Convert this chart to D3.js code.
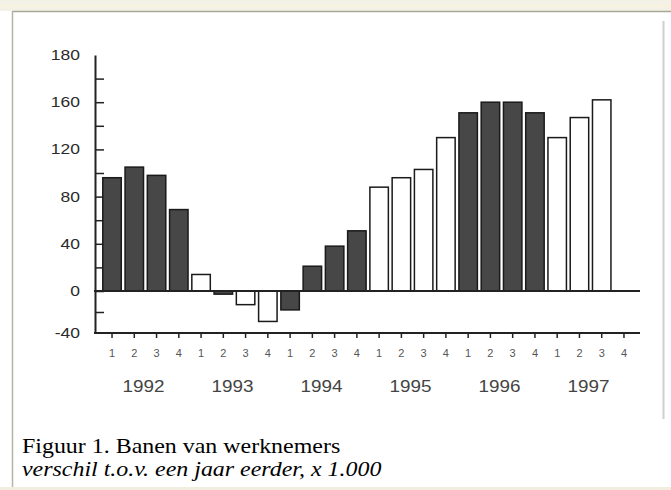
<!DOCTYPE html>
<html>
<head>
<meta charset="utf-8">
<script src="https://cdn.jsdelivr.net/npm/d3@7"></script>
<style>
  body { margin: 0; background: #fff; }
  svg { display: block; }
</style>
</head>
<body>
<svg id="chart" width="671" height="490"></svg>
<script>
// banen van werknemers, verschil t.o.v. een jaar eerder (x 1.000)
const years = [1992, 1993, 1994, 1995, 1996, 1997];
const quarters = ["1", "2", "3", "4"];
const values = [96, 105, 98, 69, 14, -3, -13, -29, -18, 21, 38, 51,
                88, 96, 103, 130, 151, 160, 160, 151, 130, 147, 162, null];
// 1 = donkere balk, 0 = witte balk
const dark = [1, 1, 1, 1, 0, 1, 0, 0, 1, 1, 1, 1,
              0, 0, 0, 0, 1, 1, 1, 1, 0, 0, 0, 0];
const yTickValues = [200, 160, 120, 80, 40, 0, -40];
const yTickLabels = ["180", "160", "120", "80", "40", "0", "-40"];
const captionTitle = "Figuur 1. Banen van werknemers";
const captionSub = "verschil t.o.v. een jaar eerder, x 1.000";

const svg = d3.select("#chart");

// omlijsting
svg.append("rect").attr("x", 0).attr("y", 0).attr("width", 671).attr("height", 11).attr("fill", "#f4f2e6");
svg.append("line").attr("x1", 0).attr("x2", 671).attr("y1", 6).attr("y2", 6).attr("stroke", "#f8f4dc").attr("stroke-width", 2);
svg.append("line").attr("x1", 12).attr("x2", 671).attr("y1", 11.5).attr("y2", 11.5).attr("stroke", "#a8a898").attr("stroke-width", 1.5);
svg.append("line").attr("x1", 12.5).attr("x2", 12.5).attr("y1", 11).attr("y2", 487).attr("stroke", "#b4b4a8").attr("stroke-width", 1.5);
svg.append("rect").attr("x", 0).attr("y", 487).attr("width", 671).attr("height", 3).attr("fill", "#f1eee0");
svg.append("line").attr("x1", 663.5).attr("x2", 663.5).attr("y1", 21).attr("y2", 419).attr("stroke", "#cfcfcf").attr("stroke-width", 2);

const data = [];
years.forEach((yr, i) => quarters.forEach((q, j) => {
  const k = i * 4 + j;
  data.push({ key: yr + "-" + q, year: yr, q: q, value: values[k], dark: dark[k] });
}));

const x = d3.scaleBand()
  .domain(data.map(d => d.key))
  .range([100.9, 635.1])
  .paddingInner(0.17)
  .paddingOuter(0.085);

// onder de nul is de schaal wat samengedrukt
const y = d3.scaleLinear()
  .domain([-40, 0, 200])
  .range([333, 291, 55]);

// y-as
const yAxis = svg.append("g")
  .attr("transform", "translate(95,0)")
  .call(d3.axisRight(y).tickValues(d3.range(-20, 200, 20)).tickSize(9).tickSizeOuter(0).tickFormat(""));
yAxis.select(".domain").attr("stroke", "#222").attr("stroke-width", 2);
yAxis.selectAll(".tick line").attr("stroke", "#222").attr("stroke-width", 1.5);

svg.append("g").selectAll("text")
  .data(yTickValues)
  .enter()
  .append("text")
  .attr("transform", d => `translate(80,${y(d)}) scale(1.25,1)`)
  .attr("text-anchor", "end")
  .attr("dy", "0.35em")
  .attr("font-family", "Liberation Sans, Arial, sans-serif")
  .attr("font-size", 14)
  .attr("fill", "#2a2a2a")
  .text((d, i) => yTickLabels[i]);

// x-as
svg.append("line")
  .attr("x1", 94).attr("x2", 640)
  .attr("y1", y(-40)).attr("y2", y(-40))
  .attr("stroke", "#222").attr("stroke-width", 2);

const xAxis = svg.append("g")
  .attr("transform", `translate(0,${y(-40)})`)
  .call(d3.axisBottom(x).tickSize(5).tickSizeOuter(0).tickFormat(""));
xAxis.select(".domain").remove();
xAxis.selectAll(".tick line").attr("stroke", "#222").attr("stroke-width", 1.5);

svg.append("g").selectAll("text")
  .data(data)
  .enter()
  .append("text")
  .attr("transform", d => `translate(${x(d.key) + x.bandwidth() / 2},357) scale(1.1,1)`)
  .attr("text-anchor", "middle")
  .attr("font-family", "Liberation Sans, Arial, sans-serif")
  .attr("font-size", 10)
  .attr("fill", "#555")
  .text(d => d.q);

svg.append("g").selectAll("text")
  .data(years)
  .enter()
  .append("text")
  .attr("transform", d => {
    const cx = (x(d + "-2") + x(d + "-3") + x.bandwidth()) / 2 - 2;
    return `translate(${cx},392) scale(1.18,1)`;
  })
  .attr("text-anchor", "middle")
  .attr("font-family", "Liberation Sans, Arial, sans-serif")
  .attr("font-size", 16)
  .attr("fill", "#444")
  .text(d => d);

// balken
svg.append("g").selectAll("rect")
  .data(data.filter(d => d.value !== null))
  .enter()
  .append("rect")
  .attr("x", d => x(d.key))
  .attr("width", x.bandwidth())
  .attr("y", d => y(Math.max(0, d.value)))
  .attr("height", d => Math.abs(y(d.value) - y(0)))
  .attr("fill", d => d.dark ? "#474747" : "#fff")
  .attr("stroke", "#1a1a1a")
  .attr("stroke-width", 1.5);

// nullijn
svg.append("line")
  .attr("x1", 94).attr("x2", 640)
  .attr("y1", y(0)).attr("y2", y(0))
  .attr("stroke", "#222").attr("stroke-width", 2);

// onderschrift
svg.append("text")
  .attr("transform", "translate(22,453) scale(1.14,1)")
  .attr("font-family", "Liberation Serif, Times New Roman, serif")
  .attr("font-size", 21)
  .attr("fill", "#000")
  .text(captionTitle);

svg.append("text")
  .attr("transform", "translate(22,476) scale(1.14,1)")
  .attr("font-family", "Liberation Serif, Times New Roman, serif")
  .attr("font-size", 21)
  .attr("font-style", "italic")
  .attr("fill", "#000")
  .text(captionSub);
</script>
</body>
</html>
